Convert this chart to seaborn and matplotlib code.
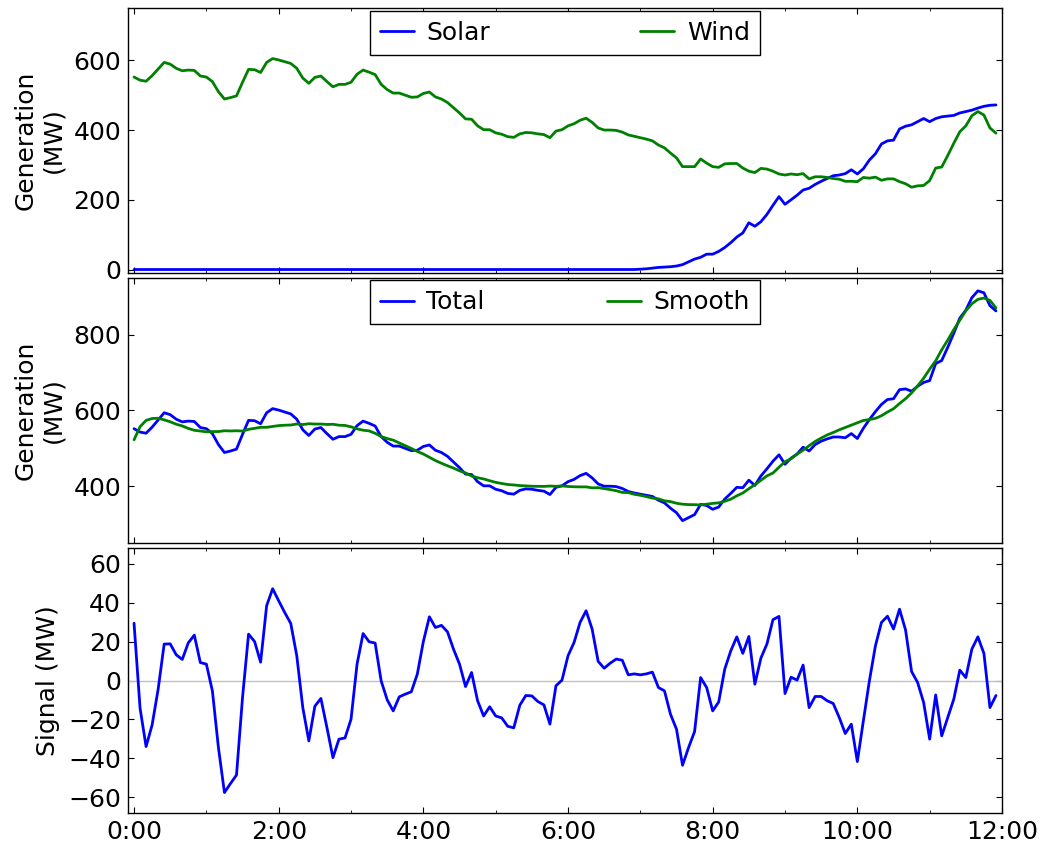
import numpy as np
import pandas as pd
import matplotlib
matplotlib.use("Agg")
import matplotlib.pyplot as plt
from matplotlib.ticker import FuncFormatter, MultipleLocator
import seaborn as sns

# 5-minute samples from 0:00 to 11:55 (MW)
solar = [0] * 84 + [
    1, 2, 4, 6, 7, 8, 10, 14, 22, 30, 35, 44, 44, 52, 63, 77, 93, 105, 134, 124,
    137, 158, 184, 209, 187,
    200, 213, 228, 233, 244, 253, 261, 269, 271, 275, 286, 274, 289, 314, 332,
    360, 369, 371, 403, 411, 415, 424, 433, 424, 433, 438, 440, 442, 449, 453,
    457, 463, 468, 471, 472,
]

wind = [
    552, 543, 540, 556, 575, 594, 589, 577, 570, 572, 571, 555, 552, 539, 510,
    489, 493, 498, 537, 574, 573, 565, 594, 605, 601, 596, 591, 577, 549, 534,
    551, 555, 539, 524, 531, 531, 537,
    560, 572, 566, 559, 531, 516, 506, 506, 500, 494, 495, 505, 509, 495, 489,
    479, 464, 449, 432, 431, 412, 401, 401, 392, 388, 381, 379, 389, 393, 392,
    389, 387, 378, 397, 401, 412,
    418, 428, 434, 422, 406, 400, 400, 399, 394, 386, 382, 378, 374, 369, 357,
    349, 334, 320, 295, 295, 295, 317, 305, 295, 293, 303, 304, 304, 291, 282,
    278, 290, 288, 282, 274, 271, 274,
    272, 275, 260, 266, 266, 264, 261, 259, 253, 253, 252, 264, 262, 265, 256,
    260, 260, 252, 246, 236, 240, 241, 255, 291, 294, 327, 362, 395, 412, 441,
    453, 443, 406, 391,
]

# total generation minus its smoothed trend (MW)
signal = [
    29.4, -14.2, -33.9, -22.8, -4.5, 18.7, 18.8, 13.2, 10.8, 19.3, 23.3, 9.2,
    8.4, -5.3, -34.4, -57.5, -52.9, -48.5, -8.7, 23.8, 20.0, 9.4, 38.4, 47.1,
    40.9, 34.9, 29.3, 12.7, -13.9, -31.0, -13.2, -9.2, -24.1, -39.6, -30.1,
    -29.5, -19.9,
    8.4, 24.1, 19.9, 19.2, -0.2, -9.9, -15.6, -8.4, -7.0, -5.8, 3.3, 20.0, 32.7,
    27.2, 28.3, 25.0, 16.1, 8.4, -3.1, 4.1, -10.4, -18.2, -13.5, -18.2, -19.2,
    -23.5, -24.3, -12.7, -7.7, -7.9, -10.8, -12.5, -22.4, -2.7, 0.2, 12.7,
    19.5, 29.8, 35.8, 26.4, 9.8, 6.3, 8.9, 11.0, 10.4, 2.9, 3.4, 2.9, 3.4, 4.3,
    -3.6, -5.3, -17.3, -25.0, -43.5, -34.4, -26.2, 1.5, -3.6, -15.6, -11.0,
    5.8, 15.2, 22.4, 13.9, 22.6, -1.9, 11.5, 18.7, 31.2, 32.9, -6.7, 1.7,
    0.2, 7.9, -13.9, -8.2, -8.2, -10.4, -11.8, -19.0, -27.2, -22.4, -41.6,
    -20.7, -0.2, 17.8, 29.8, 33.0, 26.4, 36.6, 25.9, 4.6, -1.0, -11.3, -30.1,
    -7.4, -28.4, -19.0, -9.6, 5.3, 1.5, 16.1, 22.4, 13.9, -13.9, -7.7,
]

hours = np.arange(len(wind)) * 5 / 60.0
df = pd.DataFrame({"hours": hours, "solar": solar, "wind": wind, "signal": signal})
df["total"] = df["solar"] + df["wind"]
df["smooth"] = df["total"] - df["signal"]

FS = 18
sns.set_style("ticks")
plt.rcParams.update({
    "font.family": ["DejaVu Sans"],
    "font.size": FS,
    "axes.edgecolor": "black",
    "axes.linewidth": 1.0,
    "axes.labelcolor": "black",
    "text.color": "black",
    "xtick.direction": "in",
    "ytick.direction": "in",
    "xtick.major.size": 4,
    "ytick.major.size": 4,
    "xtick.minor.size": 2,
    "ytick.minor.size": 2,
    "xtick.major.pad": 5,
    "ytick.major.pad": 5,
    "xtick.color": "black",
    "ytick.color": "black",
})

fig = plt.figure(figsize=(10.4, 8.44), dpi=100)
left, width, height = 0.12308, 0.84038, 0.31398
ax1 = fig.add_axes([left, 0.67654, width, height])
ax2 = fig.add_axes([left, 0.35664, width, height])
ax3 = fig.add_axes([left, 0.03673, width, height])

lw = 2.0
sns.lineplot(data=df, x="hours", y="solar", ax=ax1, color="#0000ff", lw=lw, label="Solar")
sns.lineplot(data=df, x="hours", y="wind", ax=ax1, color="#008000", lw=lw, label="Wind")
sns.lineplot(data=df, x="hours", y="total", ax=ax2, color="#0000ff", lw=lw, label="Total")
sns.lineplot(data=df, x="hours", y="smooth", ax=ax2, color="#008000", lw=lw, label="Smooth")
ax3.axhline(0, color="#c0c0c0", lw=1.0, zorder=1)
sns.lineplot(data=df, x="hours", y="signal", ax=ax3, color="#0000ff", lw=lw, zorder=2)

ax1.set_ylim(-10, 750)
ax2.set_ylim(250, 950)
ax3.set_ylim(-68, 68)
ax1.yaxis.set_major_locator(MultipleLocator(200))
ax2.yaxis.set_major_locator(MultipleLocator(200))
ax3.yaxis.set_major_locator(MultipleLocator(20))

ax1.set_ylabel("Generation\n(MW)", fontsize=FS, labelpad=6)
ax2.set_ylabel("Generation\n(MW)", fontsize=FS, labelpad=6)
ax3.set_ylabel("Signal (MW)", fontsize=FS, labelpad=6)

hour_fmt = FuncFormatter(lambda v, pos: f"{int(round(v))}:00")
for ax in (ax1, ax2, ax3):
    ax.set_xlim(-5 / 60.0, 12.0)
    ax.xaxis.set_major_locator(MultipleLocator(2))
    ax.xaxis.set_minor_locator(MultipleLocator(1))
    ax.xaxis.set_major_formatter(hour_fmt)
    ax.tick_params(which="both", direction="in", top=True, right=True, labelsize=FS)
    ax.set_xlabel("")
    for s in ax.spines.values():
        s.set_color("black")
        s.set_linewidth(1.0)
for ax in (ax1, ax2):
    ax.tick_params(labelbottom=False)

leg_kw = dict(ncol=2, fontsize=FS, frameon=True, fancybox=False, framealpha=1,
              edgecolor="black", handlelength=1.36, handletextpad=0.5,
              borderaxespad=0.1, loc="upper left")
l1 = ax1.legend(bbox_to_anchor=(0.274, 1.0), columnspacing=6.0, **leg_kw)
l2 = ax2.legend(bbox_to_anchor=(0.274, 1.0), columnspacing=4.9, **leg_kw)
for lg in (l1, l2):
    lg.get_frame().set_linewidth(1.0)

fig.savefig("out.png", dpi=100)
